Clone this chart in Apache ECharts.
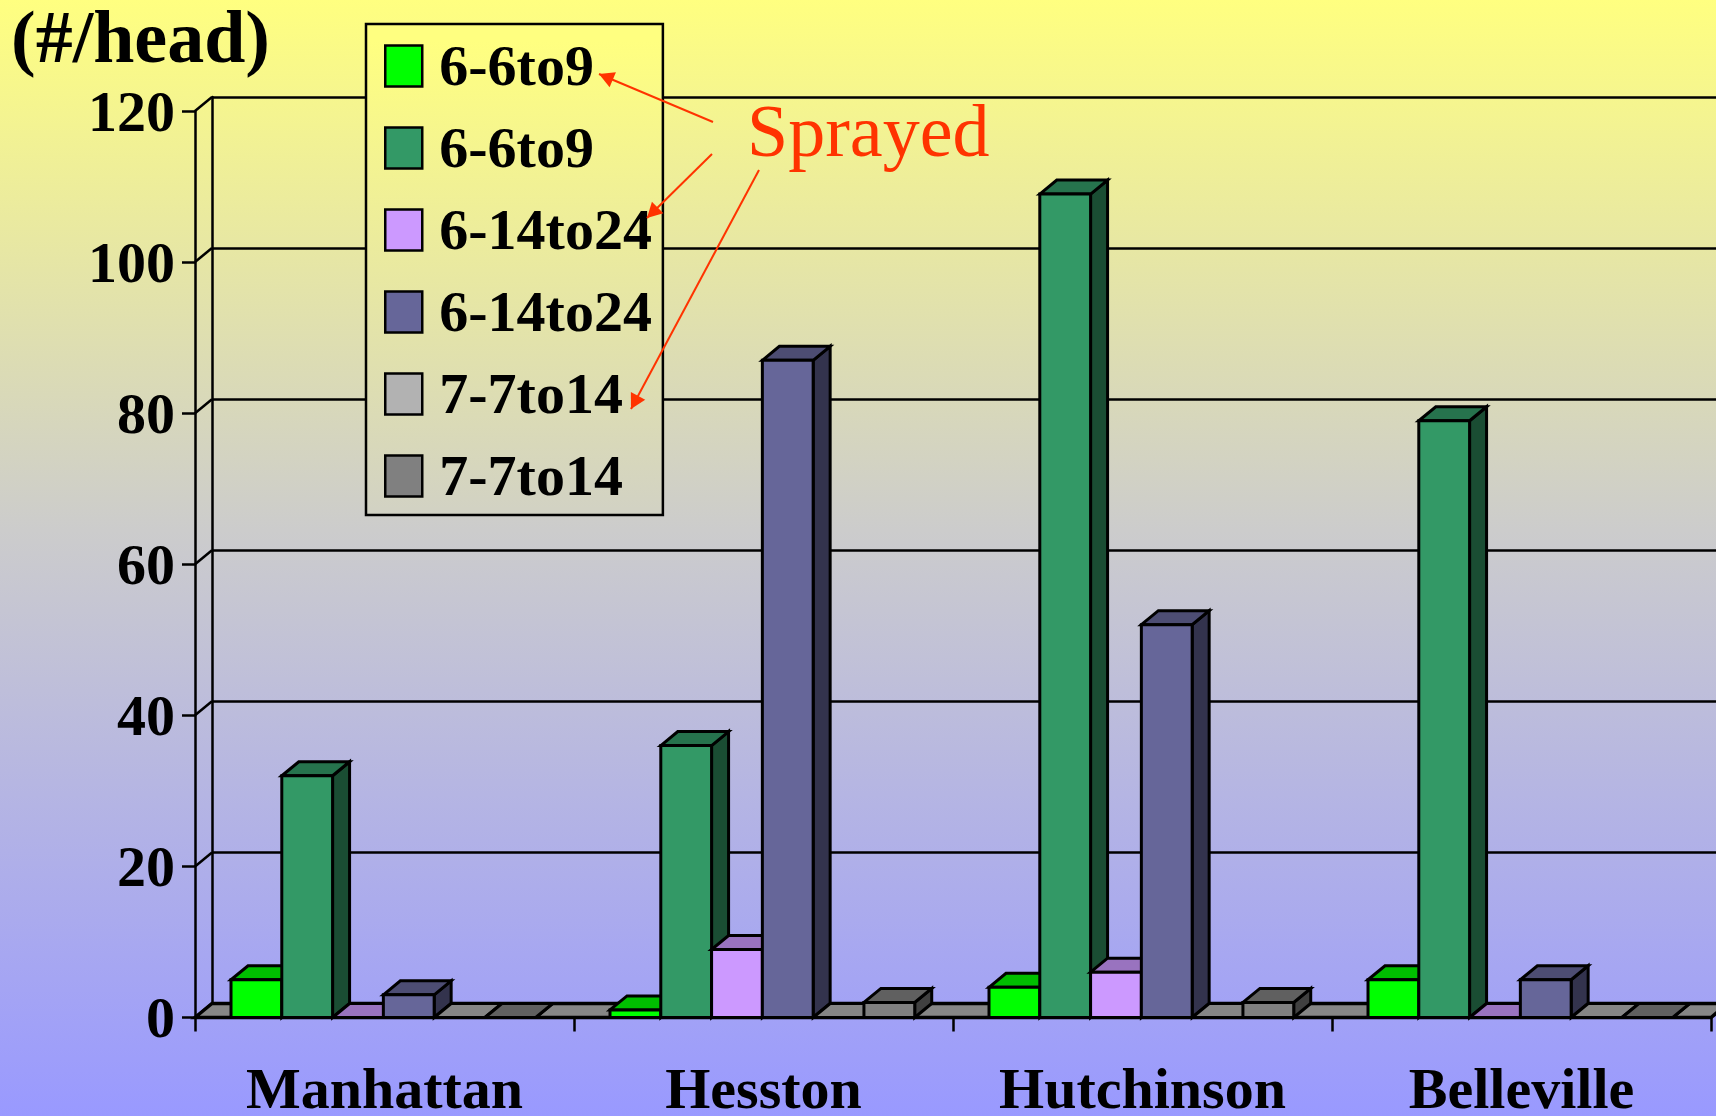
<!DOCTYPE html>
<html>
<head>
<meta charset="utf-8">
<title>(#/head)</title>
<script src="https://cdn.jsdelivr.net/npm/echarts@6/dist/echarts.min.js"></script>
<style>
  html, body { margin: 0; padding: 0; }
  #chart { width: 1716px; height: 1116px; }
</style>
</head>
<body>
<div id="chart"></div>
<script>
// 数据
var categories = ['Manhattan', 'Hesston', 'Hutchinson', 'Belleville']
var yTicks = [0, 20, 40, 60, 80, 100, 120]
var legendLabels = ['6-6to9', '6-6to9', '6-14to24', '6-14to24', '7-7to14', '7-7to14']
var seriesKeys = ['sprayed-1', 'check-1', 'sprayed-2', 'check-2', 'sprayed-3', 'check-3']
var values1 = [5, 1, 4, 5]
var values2 = [32, 36, 109, 79]
var values3 = [0, 9, 6, 0]
var values4 = [3, 87, 52, 5]
var values5 = [0, 0, 0, 0]
var values6 = [0, 2, 2, 0]
var allValues = [values1, values2, values3, values4, values5, values6]

// 颜色: 正面 / 顶面 / 侧面
var frontColors = ['#00FF00', '#339966', '#CC99FF', '#666699', '#B2B2B2', '#808080']
var topColors = ['#00BF00', '#26734D', '#9973BF', '#4D4D73', '#868686', '#606060']
var sideColors = ['#008000', '#1A4D33', '#664D80', '#33334D', '#595959', '#404040']

var FONT = '"Liberation Serif", "Times New Roman", serif'
var DX = 17
var DY = 14
var GAP_RATIO = 0.095
var BAR_RATIO = 0.134

var bgGradient = function () {
  return new echarts.graphic.LinearGradient(0, 0, 0, 1116, [
    { offset: 0, color: '#FFFF80' },
    { offset: 0.475, color: '#CCCCCC' },
    { offset: 1, color: '#9999FF' }
  ], true)
}

var poly = function (points, fill, width) {
  return {
    type: 'polygon',
    shape: { points: points },
    style: { fill: fill, stroke: '#000', lineWidth: width || 3, lineJoin: 'miter' }
  }
}

// 3D 柱子
var renderBar = function (idx) {
  return function (params, api) {
    var band = api.size([1, 0])[0]
    var w = band * BAR_RATIO
    var base = api.coord([api.value(0), 0])
    var top = api.coord([api.value(0), api.value(1)])
    var x0 = base[0] - band / 2 + band * GAP_RATIO + w * idx
    var x1 = x0 + w
    var y0 = base[1]
    var y1 = top[1]
    return {
      type: 'group',
      children: [
        poly([[x1, y0], [x1 + DX, y0 - DY], [x1 + DX, y1 - DY], [x1, y1]], sideColors[idx]),
        poly([[x0, y1], [x0 + DX, y1 - DY], [x1 + DX, y1 - DY], [x1, y1]], topColors[idx]),
        poly([[x0, y0], [x1, y0], [x1, y1], [x0, y1]], frontColors[idx])
      ]
    }
  }
}

// 侧墙上的斜线
var renderWallTick = function (params, api) {
  var y = api.coord([0, api.value(1)])[1]
  var x = params.coordSys.x
  return {
    type: 'line',
    shape: { x1: x, y1: y, x2: x + DX, y2: y - DY },
    style: { stroke: '#000', lineWidth: 2.5 }
  }
}

// 底面
var renderFloor = function (params) {
  var c = params.coordSys
  var yb = c.y + c.height
  return poly([[c.x, yb], [c.x + DX, yb - DY], [c.x + c.width + DX, yb - DY], [c.x + c.width, yb]], '#868686', 3.5)
}

var arrow = function (from, tip) {
  var ang = Math.atan2(from[1] - tip[1], from[0] - tip[0])
  var len = 17
  var spread = 0.5
  return [
    {
      type: 'line',
      z: 100,
      shape: { x1: from[0], y1: from[1], x2: tip[0], y2: tip[1] },
      style: { stroke: '#FF3300', lineWidth: 2 }
    },
    {
      type: 'polygon',
      z: 100,
      shape: {
        points: [
          tip,
          [tip[0] + len * Math.cos(ang + spread), tip[1] + len * Math.sin(ang + spread)],
          [tip[0] + len * Math.cos(ang - spread), tip[1] + len * Math.sin(ang - spread)]
        ]
      },
      style: { fill: '#FF3300' }
    }
  ]
}

var barSeries = seriesKeys.map(function (key, i) {
  return {
    name: key,
    type: 'custom',
    xAxisIndex: 0,
    yAxisIndex: 0,
    z: 5,
    renderItem: renderBar(i),
    data: allValues[i].map(function (v, c) { return [c, v] })
  }
})

var chart = echarts.init(document.getElementById('chart'), null, { renderer: 'canvas' })

chart.setOption({
  animation: false,
  backgroundColor: bgGradient(),
  title: {
    text: '(#/head)',
    left: 6,
    top: 1,
    textStyle: { fontFamily: FONT, fontWeight: 'bold', fontSize: 74, color: '#000' }
  },
  legend: {
    show: true,
    orient: 'vertical',
    left: 366,
    top: 24,
    padding: [17, 11, 6, 18],
    itemWidth: 37,
    itemHeight: 41,
    itemGap: 24,
    selectedMode: false,
    backgroundColor: bgGradient(),
    borderColor: '#000',
    borderWidth: 2.5,
    z: 20,
    formatter: function (name) {
      return '{t|' + legendLabels[seriesKeys.indexOf(name)] + '}'
    },
    textStyle: {
      rich: {
        t: {
          fontFamily: FONT,
          fontWeight: 'bold',
          fontSize: 58,
          color: '#000',
          padding: [8, 0, 0, 12]
        }
      }
    },
    data: seriesKeys.map(function (key, i) {
      return {
        name: key,
        icon: 'rect',
        itemStyle: { color: frontColors[i], borderColor: '#000', borderWidth: 2.5 }
      }
    })
  },
  grid: [
    { left: 195, top: 111, width: 1516, height: 906.5, outerBoundsMode: 'none' },
    { left: 212, top: 97, width: 1516, height: 906.5, outerBoundsMode: 'none' }
  ],
  xAxis: [
    {
      type: 'category',
      gridIndex: 0,
      data: categories,
      axisLine: { lineStyle: { color: '#000', width: 3 } },
      axisTick: { show: true, length: 14, lineStyle: { color: '#000', width: 2.5 } },
      axisLabel: {
        color: '#000',
        fontFamily: FONT,
        fontWeight: 'bold',
        fontSize: 58,
        margin: 47,
        interval: 0
      }
    },
    { type: 'category', gridIndex: 1, data: categories, show: false }
  ],
  yAxis: [
    {
      type: 'value',
      gridIndex: 0,
      min: 0,
      max: 120,
      interval: 20,
      axisLine: { show: true, lineStyle: { color: '#000', width: 2.5 } },
      axisTick: { show: true, length: 13, lineStyle: { color: '#000', width: 2.5 } },
      splitLine: { show: false },
      axisLabel: {
        color: '#000',
        fontFamily: FONT,
        fontWeight: 'bold',
        fontSize: 58,
        margin: 20,
        verticalAlign: 'top',
        lineHeight: 10
      }
    },
    {
      type: 'value',
      gridIndex: 1,
      min: 0,
      max: 120,
      interval: 20,
      axisLine: { show: true, lineStyle: { color: '#000', width: 2.5 } },
      axisTick: { show: false },
      axisLabel: { show: false },
      splitLine: { show: true, lineStyle: { color: '#000', width: 2.5 } }
    }
  ],
  graphic: arrow([713, 122], [599, 74])
    .concat(arrow([712, 154], [647, 218]))
    .concat(arrow([759, 170], [631, 409]))
    .concat([{
      type: 'text',
      z: 100,
      left: 747,
      top: 100,
      style: { text: 'Sprayed', fontFamily: FONT, fontSize: 74, fill: '#FF3300' }
    }]),
  series: [
    {
      type: 'custom',
      name: 'wall',
      xAxisIndex: 0,
      yAxisIndex: 0,
      z: 3,
      renderItem: renderWallTick,
      data: yTicks.map(function (v) { return [0, v] })
    },
    {
      type: 'custom',
      name: 'floor',
      xAxisIndex: 0,
      yAxisIndex: 0,
      z: 4,
      renderItem: renderFloor,
      data: [[0, 0]]
    }
  ].concat(barSeries)
})
</script>
</body>
</html>
